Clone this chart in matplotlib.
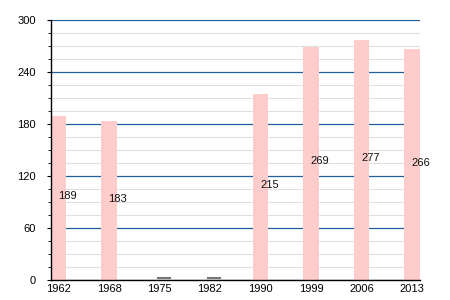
import matplotlib
matplotlib.use("Agg")
import matplotlib.pyplot as plt
import numpy as np

years = ["1962", "1968", "1975", "1982", "1990", "1999", "2006", "2013"]
values = [189, 183, None, None, 215, 269, 277, 266]
yticks = [0, 60, 120, 180, 240, 300]

plt.rcParams['font.family'] = ['Liberation Sans', 'DejaVu Sans']
fig = plt.figure(figsize=(4.5, 3), dpi=100)
ax = fig.add_axes([51/450, 20/300, 369/450, 260/300])

x = np.arange(len(years))
for xi, v in zip(x, values):
    if v is None:
        ax.plot([xi - 0.12 + 0.08, xi + 0.12 + 0.08], [2.5, 2.5], color='#777777', lw=1.5, zorder=3)
    else:
        ax.bar(xi, v, width=0.31, color='#ffcccc', zorder=2)
        ax.text(xi - 0.01, v / 2 + 2.5, str(v), ha='left', va='center', fontsize=8, color='#111111', zorder=4)

ax.set_xlim(-0.15, len(years) - 1 + 0.16)
ax.set_ylim(0, 300)
ax.set_yticks(yticks)
ax.set_yticks(np.arange(0, 301, 15), minor=True)
ax.set_xticks(x)
ax.set_xticklabels(years)
ax.grid(axis='y', which='minor', color='#e0e0e0', lw=0.8, zorder=0)
ax.grid(axis='y', which='major', color='#1f5f9f', lw=0.9, zorder=1)
ax.set_axisbelow(True)
for s in ['top', 'right']:
    ax.spines[s].set_visible(False)
ax.spines['left'].set_linewidth(1)
ax.spines['bottom'].set_linewidth(1)
ax.tick_params(axis='y', which='major', length=3, labelsize=8, pad=8)
ax.tick_params(axis='y', which='minor', length=2)
ax.tick_params(axis='x', length=0, labelsize=8, pad=3)
fig.savefig("out.png", dpi=100)
